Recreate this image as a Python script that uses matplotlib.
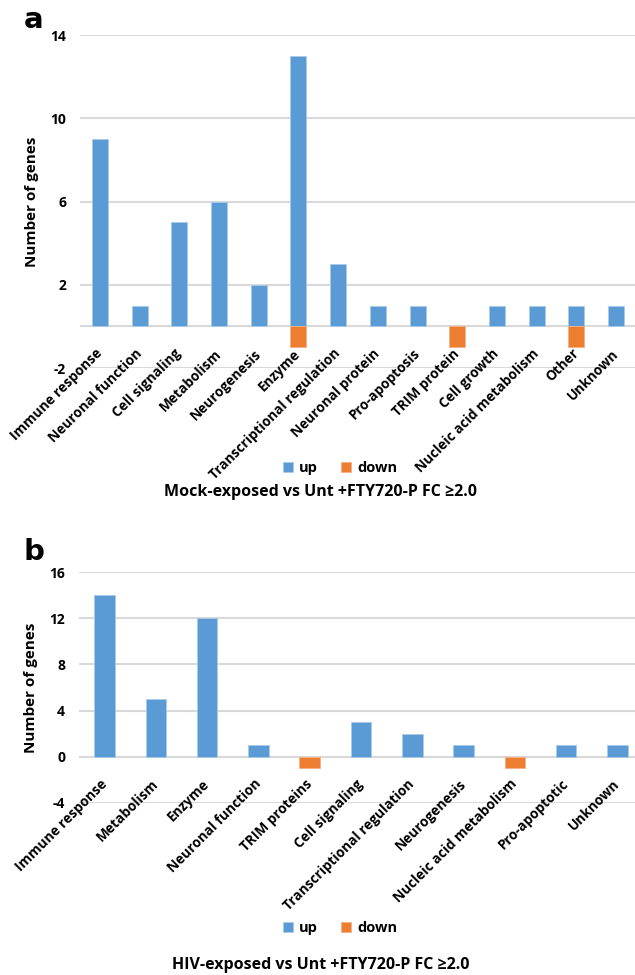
import matplotlib.pyplot as plt

plt.rcParams['font.family'] = ['Open Sans', 'DejaVu Sans']
plt.rcParams['font.weight'] = 'bold'

# Panel a data
cats_a = ["Immune response", "Neuronal function", "Cell signaling", "Metabolism",
          "Neurogenesis", "Enzyme", "Transcriptional regulation", "Neuronal protein",
          "Pro-apoptosis", "TRIM protein", "Cell growth", "Nucleic acid metabolism",
          "Other", "Unknown"]
up_a = [9, 1, 5, 6, 2, 13, 3, 1, 1, 0, 1, 1, 1, 1]
down_a = [0, 0, 0, 0, 0, -1, 0, 0, 0, -1, 0, 0, -1, 0]
yticks_a = [-2, 2, 6, 10, 14]
title_a = "Mock-exposed vs Unt +FTY720-P FC \u22652.0"

# Panel b data
cats_b = ["Immune response", "Metabolism", "Enzyme", "Neuronal function", "TRIM proteins",
          "Cell signaling", "Transcriptional regulation", "Neurogenesis",
          "Nucleic acid metabolism", "Pro-apoptotic", "Unknown"]
up_b = [14, 5, 12, 1, 0, 3, 2, 1, 0, 1, 1]
down_b = [0, 0, 0, 0, -1, 0, 0, 0, -1, 0, 0]
yticks_b = [-4, 0, 4, 8, 12, 16]
title_b = "HIV-exposed vs Unt +FTY720-P FC \u22652.0"

BLUE = '#5B9BD5'
ORANGE = '#ED7D31'
GRID = '#D9D9D9'

fig = plt.figure(figsize=(6.35, 9.75), dpi=100)


def panel(rect, cats, up, down, yticks, letter, letter_xy, title, title_y, leg_y, ylim):
    ax = fig.add_axes(rect)
    x = list(range(len(cats)))
    # skip zero-height bars so their edges don't show on the axis
    xu = [i for i in x if up[i] != 0]
    xd = [i for i in x if down[i] != 0]
    ax.bar(xu, [up[i] for i in xu], width=0.4, color=BLUE, edgecolor='#A9CBEA',
           linewidth=0.6, label='up', zorder=3)
    ax.bar(xd, [down[i] for i in xd], width=0.4, color=ORANGE, edgecolor='#F4B183',
           linewidth=0.6, label='down', zorder=3)
    ax.set_xlim(-0.5, len(cats) - 0.5)
    ax.set_ylim(*ylim)
    ax.set_yticks(yticks)
    ax.set_yticklabels([str(t) for t in yticks], fontsize=10, fontweight='bold')
    ax.tick_params(axis='y', length=0, pad=10)
    ax.set_xticks([])
    for s in ax.spines.values():
        s.set_visible(False)
    ax.grid(axis='y', color=GRID, linewidth=1.5, zorder=0)
    ax.axhline(0, color=GRID, linewidth=1.5, zorder=1)
    for i, c in enumerate(cats):
        ax.annotate(c, xy=(i, 0), xycoords='data', xytext=(0, -25),
                    textcoords='offset pixels', rotation=45, rotation_mode='anchor',
                    ha='right', va='center', fontsize=9.8, fontweight='bold')
    ax.set_ylabel("Number of genes", fontsize=11, fontweight='bold', labelpad=8)
    fig.text(letter_xy[0], letter_xy[1], letter, fontsize=21, fontweight='bold',
             family='DejaVu Sans', ha='left', va='center')
    fig.text(321 / 635, title_y, title, fontsize=11.5, fontweight='bold',
             ha='center', va='center')
    h, l = ax.get_legend_handles_labels()
    fig.legend(h, l, loc='center', bbox_to_anchor=(340 / 635, leg_y), ncol=2, frameon=False,
               handlelength=0.7, handleheight=0.7, handletextpad=0.4,
               columnspacing=1.6, prop={'weight': 'bold', 'size': 10.5})
    return ax


panel([80 / 635, 1 - 368 / 975, 556 / 635, 333 / 975], cats_a, up_a, down_a, yticks_a,
      'a', (24 / 635, 1 - 20 / 975), title_a, 1 - 492 / 975, 1 - 468 / 975, (-2, 14))
panel([79 / 635, 1 - 803 / 975, 564 / 635, 231 / 975], cats_b, up_b, down_b, yticks_b,
      'b', (24 / 635, 1 - 552 / 975), title_b, 1 - 965 / 975, 1 - 928 / 975, (-4, 16))

plt.savefig('out.png', dpi=100)
